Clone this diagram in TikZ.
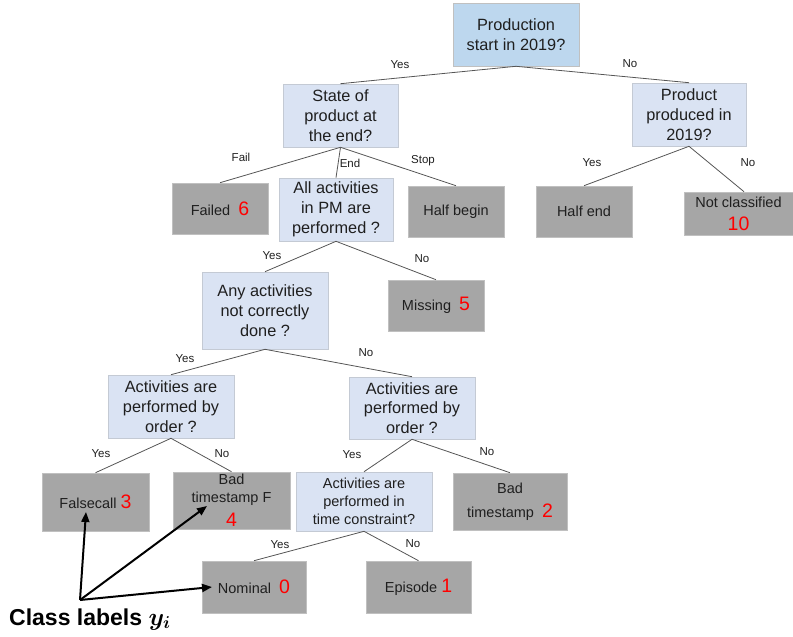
\documentclass[tikz,border=0pt]{standalone}
\usepackage{fontspec}
\setmainfont{Liberation Sans}
\usetikzlibrary{arrows.meta}
\definecolor{rootblue}{HTML}{BDD7EE}
\definecolor{qblue}{HTML}{DAE3F3}
\definecolor{leafgray}{HTML}{A6A6A6}
\definecolor{qborder}{HTML}{C4CAD4}
\definecolor{lborder}{HTML}{C0C0C0}
\definecolor{edgegray}{HTML}{555555}
\newcommand\qf{\fontsize{16.3}{19.8}\selectfont}
\newcommand\lf{\fontsize{14.5}{18}\selectfont}
\newcommand\ef{\fontsize{11.5}{13}\selectfont}
\newcommand\nf{\fontsize{19.5}{22}\selectfont}
\newcommand\clf{\fontsize{23}{26}\selectfont\bfseries}
\newcommand\cls[1]{{\nf\color{red}#1}}
\newcommand\yimath{{\boldmath$y_i$}}
\begin{document}
\begin{tikzpicture}[x=1pt,y=-1pt,
  box/.style={rectangle, inner sep=0pt, align=center, text=black!88},
  rootq/.style={box, fill=rootblue, draw=lborder, line width=0.6pt, font=\qf},
  q/.style={box, fill=qblue, draw=qborder, line width=0.6pt, font=\qf},
  leaf/.style={box, fill=leafgray, draw=lborder, line width=0.6pt, font=\lf},
  sz/.style 2 args={minimum width=#1pt, minimum height=#2pt},
  edge/.style={draw=edgegray, line width=0.8pt},
  lbl/.style={font=\ef, inner sep=0pt, text=black!88},
  ptr/.style={line width=2pt, -{Triangle[length=10pt,width=8pt]}}]
\useasboundingbox (0,0) rectangle (793,637);

% question nodes
\node[rootq, sz={126}{63}] (root) at (516,34.5) {Production\\start in 2019?};
\node[q, sz={115}{63}] (state) at (340.5,115.5) {State of\\product at\\the end?};
\node[q, sz={114}{63}] (prod) at (689,114.5) {Product\\produced in\\2019?};
\node[q, sz={114}{63}] (allact) at (336,209.5) {All activities\\in PM are\\performed ?};
\node[q, sz={126}{77}] (anyact) at (265,310.5) {Any activities\\not correctly\\done ?};
\node[q, sz={126}{63}] (actL) at (171,406.5) {Activities are\\performed by\\order ?};
\node[q, sz={126}{62}] (actR) at (412,408) {Activities are\\performed by\\order ?};
\node[q, font=\lf, sz={136}{59}] (acttime) at (364,501.5) {Activities are\\performed in\\time constraint?};

% leaf nodes
\node[leaf, sz={96}{51}] (failed) at (220,208.5) {Failed\ \ \cls{6}};
\node[leaf, sz={96}{51}] (halfbegin) at (456,211.5) {Half begin};
\node[leaf, sz={96}{51}] (halfend) at (584,211.5) {Half end};
\node[leaf, sz={109}{43}] (notcl) at (738.5,213.5) {Not classified\\[5pt]\cls{10}};
\node[leaf, sz={96}{51}] (missing) at (436,305.5) {Missing\ \ \cls{5}};
\node[leaf, sz={107}{58}] (falsecall) at (95.5,502) {Falsecall \cls{3}};
\node[leaf, sz={117}{57}] (badF) at (231.5,500.5) {Bad\\timestamp F\\[6pt]\cls{4}};
\node[leaf, sz={114}{57}] (bad2) at (510,501.5) {Bad\\[6pt]timestamp\ \ \cls{2}};
\node[leaf, sz={104}{52}] (nominal) at (254,587) {Nominal\ \ \cls{0}};
\node[leaf, sz={105}{52}] (episode) at (418.5,587) {Episode \cls{1}};

% edges
\draw[edge] (root.south) -- (state.north);
\draw[edge] (root.south) -- (prod.north);
\draw[edge] (state.south) -- (failed.north);
\draw[edge] (state.south) -- (allact.north);
\draw[edge] (state.south) -- (halfbegin.north);
\draw[edge] (prod.south) -- (halfend.north);
\draw[edge] (prod.south) -- ([xshift=5.5pt]notcl.north);
\draw[edge] (allact.south) -- (anyact.north);
\draw[edge] (allact.south) -- (missing.north);
\draw[edge] (anyact.south) -- (actL.north);
\draw[edge] (anyact.south) -- (actR.north);
\draw[edge] (actL.south) -- (falsecall.north);
\draw[edge] (actL.south) -- (badF.north);
\draw[edge] (actR.south) -- (acttime.north);
\draw[edge] (actR.south) -- (bad2.north);
\draw[edge] (acttime.south) -- (nominal.north);
\draw[edge] (acttime.south) -- (episode.north);

% edge labels
\node[lbl] (l1) at (400,65) {Yes};
\node[lbl] (l2) at (630,64) {No};
\node[lbl] (l3) at (241,157) {Fail};
\node[lbl] (l4) at (350,163) {End};
\node[lbl] (l5) at (423,161) {Stop};
\node[lbl] (l6) at (592,163) {Yes};
\node[lbl] (l7) at (748,163) {No};
\node[lbl] (l8) at (272,256) {Yes};
\node[lbl] (l9) at (422,259) {No};
\node[lbl] (l10) at (185,359) {Yes};
\node[lbl] (l11) at (366,353) {No};
\node[lbl] (l12) at (101,454) {Yes};
\node[lbl] (l13) at (222,454) {No};
\node[lbl] (l14) at (352,455) {Yes};
\node[lbl] (l15) at (487,452) {No};
\node[lbl] (l16) at (280,545) {Yes};
\node[lbl] (l17) at (413,544) {No};

% class labels annotation
\node[font=\clf, anchor=base west, inner sep=0pt] (classlbl) at (9,625) {Class labels \yimath};
\coordinate (src) at (80,600);
\coordinate (tF) at (86,512);
\coordinate (tB) at (207,506);
\coordinate (tN) at (212,587);
\draw[ptr] (src) -- (tF);
\draw[ptr] (src) -- (tB);
\draw[ptr] (src) -- (tN);
\end{tikzpicture}
\end{document}
